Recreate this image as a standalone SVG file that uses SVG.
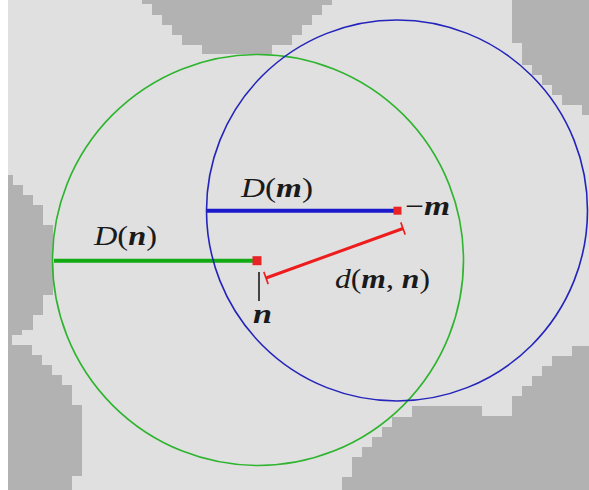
<svg xmlns="http://www.w3.org/2000/svg" width="589" height="490" viewBox="0 0 589 490">
  <defs>
    <style>
      .blob { fill: #b2b2b2; stroke: none; }
      .ring { fill: none; stroke-width: 1.6; }
      .lbl { font-family: "Liberation Serif", "DejaVu Serif", serif; font-size: 27px; fill: #1a1a1a; }
      .it { font-style: italic; }
      .bi { font-style: italic; font-weight: bold; }
      .pt { fill: #e82424; }
    </style>
    <marker id="bar" markerUnits="userSpaceOnUse" markerWidth="4" markerHeight="16" viewBox="-2 -8 4 16" refX="0" refY="0" orient="auto">
      <path d="M0,-6.5 L0,6.5" stroke="#ee1c1c" stroke-width="1.6" fill="none"/>
    </marker>
  </defs>

  <g id="background">
    <rect x="0" y="0" width="589" height="490" fill="#e0e0e0"/>
    <rect x="0" y="0" width="8" height="490" fill="#ffffff"/>
    <polygon class="blob" points="142,0 332,0 332,5 322,5 322,15 312,15 312,25 302,25 302,35 292,35 292,45 272,45 272,54 202,54 202,45 182,45 182,35 172,35 172,25 162,25 162,15 152,15 152,4 142,4"/>
    <polygon class="blob" points="512,0 589,0 589,115 582,115 582,105 562,105 562,95 552,95 552,85 542,85 542,75 532,75 532,65 522,65 522,43 512,43"/>
    <polygon class="blob" points="8,175 13,175 13,185 23,185 23,195 33,195 33,205 43,205 43,225 53,225 53,295 43,295 43,315 33,315 33,330 22,330 22,335 12,335 12,345 32,345 32,355 42,355 42,365 52,365 52,375 62,375 62,385 72,385 72,405 82,405 82,476 72,476 72,490 8,490"/>
    <polygon class="blob" points="589,346 572,346 572,356 552,356 552,366 542,366 542,376 532,376 532,386 522,386 522,396 512,396 512,416 482,416 482,406 412,406 412,417 392,417 392,427 382,427 382,437 372,437 372,447 362,447 362,457 352,457 352,477 342,477 342,490 589,490"/>
  </g>

  <g id="connectors">
    <line id="radius-n" x1="54" y1="260.7" x2="257" y2="260.7" stroke="#12aa12" stroke-width="4"/>
    <line id="radius-m" x1="206" y1="210.7" x2="397" y2="210.7" stroke="#1a1acc" stroke-width="4"/>
    <line id="distance-mn" x1="266" y1="278" x2="403" y2="228.5" stroke="#ee1c1c" stroke-width="3" marker-start="url(#bar)" marker-end="url(#bar)"/>
    <line id="tick-n" x1="259" y1="272" x2="259" y2="301" stroke="#111111" stroke-width="1.5"/>
  </g>

  <g id="node-n">
    <circle class="ring" cx="258" cy="260" r="205.5" stroke="#2eb42e"/>
    <rect class="pt" x="252.5" y="256.2" width="9" height="9"/>
    <text class="lbl bi" x="253" y="323" textLength="19" lengthAdjust="spacingAndGlyphs">n</text>
  </g>

  <g id="node-m">
    <circle class="ring" cx="397" cy="210.5" r="190.5" stroke="#2424bb"/>
    <rect class="pt" x="393.5" y="206.7" width="8" height="8"/>
    <text class="lbl" x="405" y="215" textLength="45" lengthAdjust="spacingAndGlyphs">−<tspan class="bi">m</tspan></text>
  </g>

  <g id="labels">
    <text class="lbl" x="241" y="197" textLength="72" lengthAdjust="spacingAndGlyphs"><tspan class="it">D</tspan>(<tspan class="bi">m</tspan>)</text>
    <text class="lbl" x="94" y="245" textLength="63" lengthAdjust="spacingAndGlyphs"><tspan class="it">D</tspan>(<tspan class="bi">n</tspan>)</text>
    <text class="lbl" x="335" y="288" textLength="95" lengthAdjust="spacingAndGlyphs"><tspan class="it">d</tspan>(<tspan class="bi">m</tspan>, <tspan class="bi">n</tspan>)</text>
  </g>
</svg>
